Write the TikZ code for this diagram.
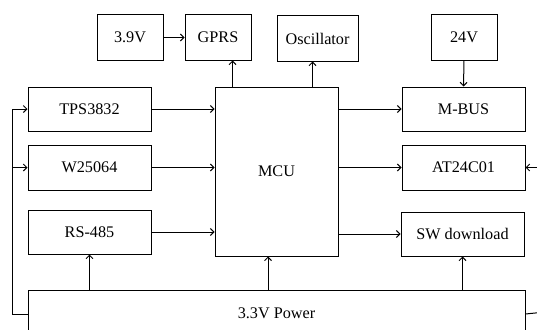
\documentclass[tikz,border=0pt]{standalone}
\usepackage{fontspec}
\setmainfont{Liberation Serif}
\usetikzlibrary{arrows.meta}
\begin{document}
\begin{tikzpicture}[x=1pt,y=-1pt,
  blk/.style={draw,line width=1pt,inner sep=0pt,font=\fontsize{16.2}{19}\selectfont},
  arr/.style={line width=1pt,-{Straight Barb[length=3.5pt,width=7pt]}},
  ln/.style={line width=1pt}]
\clip (0,0) rectangle (537,329);
\fill[white] (0,0) rectangle (537,329);
\newcommand{\blkat}[4]{\node[blk,minimum width=#3,minimum height=#4] at (#1,#2)}
% boxes (center x, center y, width, height)
\blkat{130}{37.5}{66}{45} (v39) {3.9V};
\blkat{218}{37.5}{66}{45} (gprs) {GPRS};
\blkat{317.5}{38.5}{81}{45} (osc) {Oscillator};
\blkat{464}{37.5}{66}{45} (v24) {24V};
\blkat{89.5}{109}{123}{44} (tps) {TPS3832};
\blkat{89.5}{167.5}{123}{45} (w25) {W25064};
\blkat{89.5}{232}{123}{44} (rs) {RS-485};
\blkat{276.5}{171.5}{123}{169} (mcu) {MCU};
\blkat{463.5}{109}{123}{44} (mbus) {M-BUS};
\blkat{463.5}{167.5}{123}{45} (at24) {AT24C01};
\blkat{462.5}{234}{123}{44} (sw) {SW download};
\blkat{276.5}{313}{497}{46} (pwr) {3.3V Power};
% top connectors
\draw[arr] (v39.east) -- (gprs.west);
\draw[arr] ([xshift=18pt]mcu.north west) -- ([xshift=18pt]mcu.north west |- gprs.south);
\draw[arr] ([xshift=98pt]mcu.north west) -- ([xshift=98pt]mcu.north west |- osc.south);
\draw[arr] (v24.south) -- (mbus.north);
% left to MCU
\draw[arr] (tps.east) -- (tps.east -| mcu.west);
\draw[arr] (w25.east) -- (w25.east -| mcu.west);
\draw[arr] (rs.east) -- (rs.east -| mcu.west);
% MCU to right
\draw[arr] (mbus.west -| mcu.east) -- (mbus.west);
\draw[arr] (at24.west -| mcu.east) -- (at24.west);
\draw[arr] (sw.west -| mcu.east) -- (sw.west);
% power up
\draw[arr] (rs.south |- pwr.north) -- (rs.south);
\draw[arr] ([xshift=-8.5pt]mcu.south |- pwr.north) -- ([xshift=-8.5pt]mcu.south);
\draw[arr] (sw.south |- pwr.north) -- (sw.south);
% left loop
\coordinate (lb) at (12,313);
\coordinate (lt) at (12,109);
\coordinate (lm) at (12,167.5);
\draw[ln] ([yshift=-1pt]pwr.west) -- ([yshift=-1pt]lb) -- (lt);
\draw[arr] (lt) -- (tps.west);
\draw[arr] (lm) -- (w25.west);
% right loop
\coordinate (rb) at (545,312);
\coordinate (rt) at (545,167.5);
\draw[ln] ([yshift=-1pt]pwr.east) -- (rb) -- (rt);
\draw[arr] (rt) -- (at24.east);
\end{tikzpicture}
\end{document}
